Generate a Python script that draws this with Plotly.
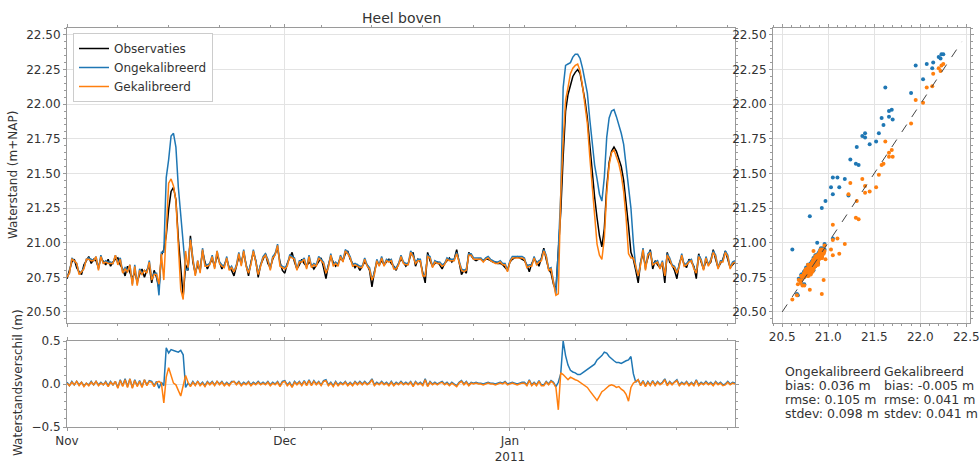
import pandas as pd
import plotly.graph_objects as go

# ---------------- data ----------------
START = "2010-11-01"
END = "2011-02-01"
STEP = "8h"

# observed water level (m+NAP), 3 samples per day, Nov 1 2010 .. Feb 1 2011
observaties = [
    20.74, 20.80, 20.86, 20.88, 20.82, 20.79, 20.77, 20.84, 20.87,
    20.90, 20.85, 20.88, 20.87, 20.82, 20.89, 20.86, 20.84, 20.88,
    20.83, 20.86, 20.88, 20.89, 20.84, 20.81, 20.76, 20.83, 20.78,
    20.74, 20.79, 20.72, 20.77, 20.81, 20.75, 20.80, 20.83, 20.71,
    20.80, 20.75, 20.67, 20.91, 20.95, 21.05, 21.24, 21.37, 21.40,
    21.31, 21.03, 20.80, 20.61, 20.84, 20.80, 21.05, 20.86, 20.78,
    20.84, 20.80, 20.94, 20.86, 20.81, 20.85, 20.88, 20.83, 20.91,
    20.86, 20.81, 20.84, 20.88, 20.82, 20.80, 20.76, 20.84, 20.90,
    20.85, 20.93, 20.84, 20.76, 20.86, 20.93, 20.87, 20.75, 20.84,
    20.88, 20.92, 20.85, 20.82, 20.88, 20.92, 20.96, 20.86, 20.80,
    20.78, 20.85, 20.89, 20.93, 20.86, 20.81, 20.84, 20.88, 20.85,
    20.83, 20.86, 20.84, 20.81, 20.84, 20.87, 20.89, 20.82, 20.74,
    20.84, 20.90, 20.86, 20.83, 20.85, 20.89, 20.87, 20.92, 20.94,
    20.88, 20.85, 20.82, 20.84, 20.80, 20.83, 20.86, 20.84, 20.80,
    20.68, 20.79, 20.86, 20.84, 20.87, 20.84, 20.86, 20.88, 20.85,
    20.83, 20.80, 20.85, 20.88, 20.86, 20.83, 20.85, 20.91, 20.93,
    20.83, 20.88, 20.86, 20.78, 20.71, 20.93, 20.87, 20.83, 20.85,
    20.86, 20.84, 20.81, 20.85, 20.87, 20.89, 20.86, 20.88, 20.95,
    20.85, 20.77, 20.80, 20.78, 20.93, 20.90, 20.88, 20.87, 20.88,
    20.88, 20.87, 20.88, 20.88, 20.87, 20.86, 20.86, 20.85, 20.85,
    20.84, 20.82, 20.80, 20.86, 20.88, 20.89, 20.90, 20.89, 20.88,
    20.87, 20.84, 20.79, 20.85, 20.88, 20.86, 20.83, 20.89, 20.96,
    20.88, 20.81, 20.78, 20.70, 20.66, 20.93, 21.22, 21.62, 21.95,
    22.07, 22.14, 22.20, 22.23, 22.25, 22.22, 22.13, 22.03, 21.90,
    21.70, 21.52, 21.33, 21.18, 21.05, 20.97, 21.10, 21.40, 21.58,
    21.66, 21.69, 21.66, 21.60, 21.55, 21.45, 21.30, 21.12, 20.93,
    20.88, 20.80, 20.71, 20.86, 20.92, 20.83, 20.89, 20.95, 20.81,
    20.87, 20.84, 20.82, 20.85, 20.71, 20.93, 20.86, 20.84, 20.80,
    20.74, 20.85, 20.90, 20.84, 20.82, 20.88, 20.86, 20.83, 20.74,
    20.92, 20.86, 20.81, 20.87, 20.84, 20.86, 20.95, 20.88, 20.82,
    20.85, 20.88, 20.94, 20.88, 20.82, 20.84, 20.86,
]

# model minus observation, uncalibrated model (m)
verschil_ongekalibreerd = [
    0.02, -0.02, 0.03, -0.01, 0.03, -0.01, 0.02, -0.02, 0.01,
    -0.01, 0.03, -0.01, 0.03, -0.01, 0.02, -0.01, 0.03, -0.02,
    0.03, -0.01, 0.03, -0.04, 0.05, -0.02, 0.06, -0.03, 0.06,
    -0.04, 0.05, -0.02, 0.04, -0.03, 0.05, -0.01, 0.04, 0.03,
    -0.02, 0.03, -0.05, 0.02, -0.02, 0.42, 0.36, 0.40, 0.39,
    0.38, 0.37, 0.39, 0.34, -0.04, 0.01, -0.02, 0.03, -0.01,
    0.03, -0.01, 0.02, -0.02, 0.03, 0.00, 0.03, -0.01, 0.03,
    0.00, 0.03, -0.01, 0.02, -0.01, 0.03, 0.03, 0.00, 0.03,
    -0.01, 0.02, 0.00, 0.03, -0.01, 0.02, 0.00, 0.03, 0.00,
    0.02, 0.00, 0.03, -0.01, 0.02, 0.00, 0.03, -0.02, 0.03,
    0.04, -0.01, 0.02, -0.03, 0.03, 0.00, 0.03, -0.01, 0.04,
    -0.01, 0.05, -0.01, 0.04, 0.00, 0.03, -0.01, 0.04, 0.05,
    -0.01, 0.02, -0.02, 0.03, -0.01, 0.02, 0.00, 0.03, -0.01,
    0.02, -0.01, 0.03, 0.00, 0.03, 0.00, 0.03, 0.00, 0.02,
    0.06, -0.01, 0.02, 0.00, 0.03, 0.00, 0.02, -0.01, 0.03,
    -0.01, 0.02, 0.00, 0.03, 0.00, 0.02, 0.00, 0.03, -0.02,
    0.03, 0.00, 0.02, -0.01, 0.06, -0.02, 0.03, 0.00, 0.02,
    0.00, 0.02, 0.03, 0.00, 0.02, -0.01, 0.02, 0.00, -0.02,
    0.02, 0.04, 0.00, 0.03, -0.01, 0.02, 0.01, 0.02, 0.01,
    0.01, 0.00, 0.01, 0.02, 0.01, 0.01, 0.00, 0.01, 0.02,
    0.01, 0.03, 0.00, 0.01, 0.02, 0.01, 0.00, 0.01, 0.02,
    0.02, -0.01, 0.05, -0.01, 0.02, -0.01, 0.04, -0.01, -0.01,
    0.03, 0.00, 0.04, 0.02, -0.03, 0.02, 0.12, 0.50, 0.33,
    0.22, 0.16, 0.14, 0.13, 0.11, 0.11, 0.13, 0.15, 0.18,
    0.19, 0.21, 0.23, 0.28, 0.30, 0.33, 0.37, 0.36, 0.32,
    0.29, 0.27, 0.25, 0.25, 0.24, 0.26, 0.27, 0.28, 0.32,
    0.12, 0.02, 0.05, -0.01, 0.04, -0.02, 0.03, -0.01, 0.04,
    -0.01, 0.03, 0.00, 0.02, 0.06, -0.01, 0.03, 0.00, 0.03,
    0.05, -0.01, 0.02, 0.00, 0.03, -0.01, 0.02, -0.01, 0.05,
    -0.01, 0.02, 0.00, 0.03, 0.00, 0.02, -0.01, 0.03, 0.00,
    0.02, -0.01, 0.00, 0.03, 0.00, 0.02, 0.01,
]

# model minus observation, calibrated model (m)
verschil_gekalibreerd = [
    0.01, -0.02, 0.02, -0.01, 0.03, -0.02, 0.02, -0.03, 0.01,
    -0.02, 0.02, -0.01, 0.03, -0.02, 0.01, -0.01, 0.02, -0.03,
    0.02, -0.01, 0.03, -0.05, 0.04, -0.03, 0.05, -0.04, 0.06,
    -0.05, 0.04, -0.03, 0.03, -0.04, 0.05, -0.02, 0.03, 0.02,
    -0.03, 0.02, 0.03, 0.01, -0.22, 0.08, 0.19, 0.09, 0.01,
    -0.01, -0.08, -0.14, -0.02, 0.10, 0.02, -0.03, 0.02, -0.02,
    0.03, -0.02, 0.01, -0.03, 0.02, -0.01, 0.02, -0.02, 0.03,
    -0.01, 0.02, -0.02, 0.01, -0.02, 0.02, 0.03, -0.01, 0.02,
    -0.02, 0.01, -0.01, 0.02, -0.02, 0.01, -0.01, 0.02, -0.01,
    0.01, -0.01, 0.02, -0.02, 0.01, -0.01, 0.02, -0.03, 0.02,
    0.03, -0.02, 0.01, -0.04, 0.02, -0.01, 0.02, -0.02, 0.03,
    -0.02, 0.04, -0.02, 0.03, -0.01, 0.02, -0.02, 0.03, 0.04,
    -0.02, 0.01, -0.03, 0.02, -0.02, 0.01, -0.01, 0.02, -0.02,
    0.01, -0.02, 0.02, -0.01, 0.02, -0.01, 0.02, -0.01, 0.01,
    0.05, -0.02, 0.01, -0.01, 0.02, -0.01, 0.01, -0.02, 0.02,
    -0.02, 0.01, -0.01, 0.02, -0.01, 0.01, -0.01, 0.02, -0.03,
    0.02, -0.01, 0.01, -0.02, 0.05, -0.03, 0.02, -0.01, 0.01,
    -0.01, 0.01, 0.02, -0.01, 0.01, -0.02, 0.01, -0.01, -0.03,
    0.01, 0.03, -0.01, 0.02, -0.02, 0.01, 0.00, 0.01, 0.00,
    0.00, -0.01, 0.00, 0.01, 0.00, 0.00, -0.01, 0.00, 0.01,
    0.00, 0.02, -0.01, 0.00, 0.01, 0.00, -0.01, 0.00, 0.01,
    0.01, -0.02, 0.04, -0.02, 0.01, -0.02, 0.03, -0.02, -0.02,
    0.02, -0.01, 0.03, 0.01, -0.04, -0.30, 0.13, 0.11, 0.08,
    0.05, 0.08, 0.06, 0.05, 0.04, 0.02, 0.00, -0.02, -0.04,
    -0.08, -0.12, -0.16, -0.19, -0.14, -0.09, -0.07, -0.04, -0.02,
    -0.01, -0.02, -0.04, -0.03, -0.06, -0.08, -0.12, -0.20, -0.04,
    0.01, 0.03, 0.05, -0.02, 0.03, -0.03, 0.02, -0.02, 0.03,
    -0.02, 0.02, -0.01, 0.01, 0.05, -0.02, 0.02, -0.01, 0.02,
    0.04, -0.02, 0.01, -0.01, 0.02, -0.02, 0.01, -0.02, 0.04,
    -0.02, 0.01, -0.01, 0.02, -0.01, 0.01, -0.02, 0.02, -0.01,
    0.01, -0.02, -0.01, 0.02, -0.01, 0.01, 0.00,
]

MONTH_TICKS = ["2010-11-01", "2010-12-01", "2011-01-01"]
MONTH_LABELS = ["Nov", "Dec", "Jan<br>2011"]
LEVEL_TICKS = [20.50, 20.75, 21.00, 21.25, 21.50, 21.75, 22.00, 22.25, 22.50]
DIFF_TICKS = [-0.5, 0.0, 0.5]
SCATTER_X_TICKS = [20.5, 21.0, 21.5, 22.0, 22.5]
ONE_TO_ONE = [20.5, 22.45]

STATS_HEADERS = ["Ongekalibreerd", "Gekalibreerd"]
STATS_ONGEKALIBREERD = ["bias: 0.036 m", "rmse: 0.105 m", "stdev: 0.098 m"]
STATS_GEKALIBREERD = ["bias: -0.005 m", "rmse: 0.041 m", "stdev: 0.041 m"]

TITLE = "Heel boven"

# ---------------- derived series ----------------
tijd = pd.date_range(START, periods=len(observaties), freq=STEP)
ongekalibreerd = [o + d for o, d in zip(observaties, verschil_ongekalibreerd)]
gekalibreerd = [o + d for o, d in zip(observaties, verschil_gekalibreerd)]

# ---------------- styling ----------------
W, H = 979, 463
FONT = "DejaVu Sans"
TXT = "#333333"
FRAME = "#9a9a9a"
GRID = "#e3e3e3"
BLACK = "#000000"
BLUE = "#1f77b4"
ORANGE = "#ff7f0e"


def px_x(p):
    return p / W


def px_y(p):
    return 1 - p / H


main_x = [px_x(67), px_x(735)]
sc_x = [px_x(773), px_x(970)]
main_y = [px_y(323), px_y(28)]
diff_y = [px_y(427), px_y(341)]

fig = go.Figure()

# main time series
fig.add_trace(go.Scatter(x=tijd, y=observaties, mode="lines", name="Observaties",
                         line=dict(color=BLACK, width=1.5), xaxis="x", yaxis="y"))
fig.add_trace(go.Scatter(x=tijd, y=ongekalibreerd, mode="lines", name="Ongekalibreerd",
                         line=dict(color=BLUE, width=1.5), xaxis="x", yaxis="y"))
fig.add_trace(go.Scatter(x=tijd, y=gekalibreerd, mode="lines", name="Gekalibreerd",
                         line=dict(color=ORANGE, width=1.5), xaxis="x", yaxis="y"))

# difference panel
fig.add_trace(go.Scatter(x=tijd, y=verschil_ongekalibreerd, mode="lines", showlegend=False,
                         line=dict(color=BLUE, width=1.5), xaxis="x2", yaxis="y2"))
fig.add_trace(go.Scatter(x=tijd, y=verschil_gekalibreerd, mode="lines", showlegend=False,
                         line=dict(color=ORANGE, width=1.5), xaxis="x2", yaxis="y2"))

# scatter panel
fig.add_trace(go.Scatter(x=observaties, y=ongekalibreerd, mode="markers", showlegend=False,
                         marker=dict(color=BLUE, size=4, line=dict(width=0)),
                         xaxis="x3", yaxis="y3"))
fig.add_trace(go.Scatter(x=observaties, y=gekalibreerd, mode="markers", showlegend=False,
                         marker=dict(color=ORANGE, size=4, line=dict(width=0)),
                         xaxis="x3", yaxis="y3"))
fig.add_trace(go.Scatter(x=ONE_TO_ONE, y=ONE_TO_ONE, mode="lines", showlegend=False,
                         line=dict(color="#444444", width=1, dash="dash"),
                         xaxis="x3", yaxis="y3"))

axis_common = dict(showline=True, linecolor=FRAME, linewidth=1, mirror="ticks",
                   ticks="outside", ticklen=3, tickcolor=FRAME, automargin=False,
                   ticklabeloverflow="allow",
                   showgrid=True, gridcolor=GRID, gridwidth=1, zeroline=False,
                   tickfont=dict(family=FONT, size=12, color=TXT))

date_minor = dict(tick0=START, dtick=7 * 24 * 3600 * 1000, ticks="outside",
                  ticklen=2, tickcolor=FRAME, showgrid=False)

fig.update_layout(
    template="plotly_white",
    width=W, height=H, autosize=False,
    margin=dict(l=0, r=0, t=0, b=0, pad=0),
    paper_bgcolor="white", plot_bgcolor="white",
    font=dict(family=FONT, size=12, color=TXT),
    showlegend=True,
    legend=dict(x=px_x(73), y=px_y(33), xanchor="left", yanchor="top",
                bgcolor="white", bordercolor="#cccccc", borderwidth=1,
                font=dict(family=FONT, size=12, color=TXT),
                itemwidth=30, tracegroupgap=0),
    xaxis=dict(axis_common, domain=main_x, anchor="y", type="date",
               range=[START, END], tickvals=MONTH_TICKS, showticklabels=False,
               minor=date_minor),
    yaxis=dict(axis_common, domain=main_y, anchor="x", range=[20.42, 22.55],
               tickvals=LEVEL_TICKS, tickformat=".2f",
               minor=dict(dtick=0.05, ticks="outside", ticklen=2, tickcolor=FRAME, showgrid=False)),
    xaxis2=dict(axis_common, domain=main_x, anchor="y2", type="date",
                range=[START, END], tickvals=MONTH_TICKS, ticktext=MONTH_LABELS,
                minor=date_minor),
    yaxis2=dict(axis_common, domain=diff_y, anchor="x2", range=[-0.5, 0.5],
                tickvals=DIFF_TICKS, tickformat=".1f",
                minor=dict(dtick=0.1, ticks="outside", ticklen=2, tickcolor=FRAME, showgrid=False)),
    xaxis3=dict(axis_common, domain=sc_x, anchor="y3", range=[20.40, 22.54],
                tickvals=SCATTER_X_TICKS, tickformat=".1f",
                minor=dict(dtick=0.1, ticks="outside", ticklen=2, tickcolor=FRAME, showgrid=False)),
    yaxis3=dict(axis_common, domain=main_y, anchor="x3", range=[20.42, 22.55],
                tickvals=LEVEL_TICKS, tickformat=".2f",
                minor=dict(dtick=0.05, ticks="outside", ticklen=2, tickcolor=FRAME, showgrid=False)),
)

annotations = [
    dict(text=TITLE, x=px_x(401), y=px_y(18), xref="paper", yref="paper",
         xanchor="center", yanchor="middle", showarrow=False,
         font=dict(family=FONT, size=14, color=TXT)),
    dict(text="Waterstand (m+NAP)", x=px_x(13), y=px_y(175), xref="paper", yref="paper",
         xanchor="center", yanchor="middle", textangle=-90, showarrow=False,
         font=dict(family=FONT, size=12, color=TXT)),
    dict(text="Waterstandsverschil (m)", x=px_x(18), y=px_y(383), xref="paper", yref="paper",
         xanchor="center", yanchor="middle", textangle=-90, showarrow=False,
         font=dict(family=FONT, size=12, color=TXT)),
]

col_x = [783, 882]
cols = [STATS_ONGEKALIBREERD, STATS_GEKALIBREERD]
for ci, (hdr, lines) in enumerate(zip(STATS_HEADERS, cols)):
    for li, txt in enumerate([hdr] + lines):
        annotations.append(dict(text=txt, x=px_x(col_x[ci]), y=px_y(371 + 14 * li),
                                xref="paper", yref="paper", xanchor="left", yanchor="middle",
                                showarrow=False, font=dict(family=FONT, size=12.5, color=TXT)))

fig.update_layout(annotations=annotations)

fig.write_html("out.html",
               config={"displayModeBar": False},
               post_script="document.body.style.margin='0';document.body.style.padding='0';"
                           "document.body.style.overflow='hidden';")
